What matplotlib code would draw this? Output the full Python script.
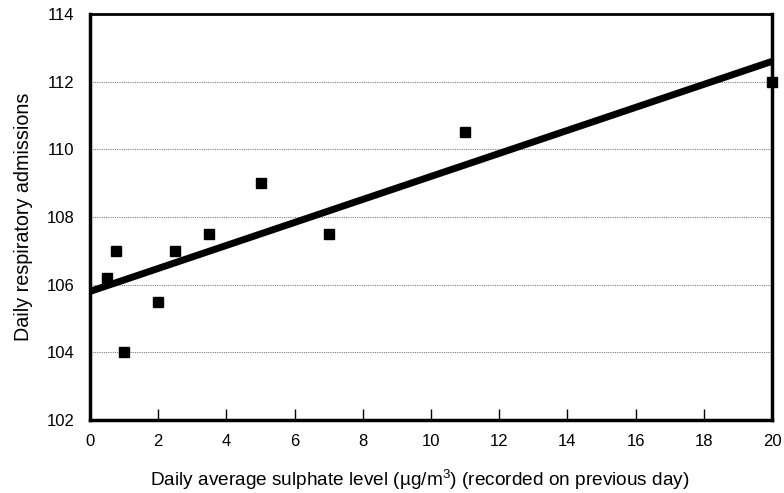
import matplotlib.pyplot as plt

# data
sulphate = [0.5, 0.75, 1.0, 2.0, 2.5, 3.5, 5.0, 7.0, 11.0, 20.0]
admissions = [106.2, 107.0, 104.0, 105.5, 107.0, 107.5, 109.0, 107.5, 110.5, 112.0]

# fitted line endpoints
fit_x = [0, 20]
fit_y = [105.8, 112.6]

plt.rcParams['font.family'] = ['Liberation Sans', 'DejaVu Sans']
plt.rcParams['mathtext.default'] = 'regular'

fig = plt.figure(figsize=(7.84, 4.93), dpi=100)
ax = fig.add_axes([0.1148, 0.148, 0.8699, 0.8236])

ax.plot(fit_x, fit_y, color='black', linewidth=5, solid_capstyle='butt', zorder=3)
ax.plot(sulphate, admissions, 's', color='black', markersize=7.5, zorder=4, clip_on=False)

ax.set_xlim(0, 20)
ax.set_ylim(102, 114)
ax.set_xticks(range(0, 21, 2))
ax.set_yticks(range(102, 115, 2))
ax.tick_params(axis='x', direction='in', length=8, width=1, labelsize=12, pad=10)
ax.tick_params(axis='y', length=0, labelsize=12, pad=11)

for y in [104, 106, 108, 110, 112]:
    ax.axhline(y, color='gray', linestyle=(0, (1, 1)), linewidth=0.8, zorder=1)

for side in ['left', 'bottom', 'right']:
    ax.spines[side].set_linewidth(2.5)
ax.spines['top'].set_linewidth(2)

ax.set_xlabel('Daily average sulphate level (\u00b5g/m$^3$) (recorded on previous day)',
              fontsize=13.7)
ax.xaxis.set_label_coords(0.484, -0.118)
ax.set_ylabel('Daily respiratory admissions', fontsize=14.2)
ax.yaxis.set_label_coords(-0.084, 0.5)

fig.savefig('out.png', dpi=100)
